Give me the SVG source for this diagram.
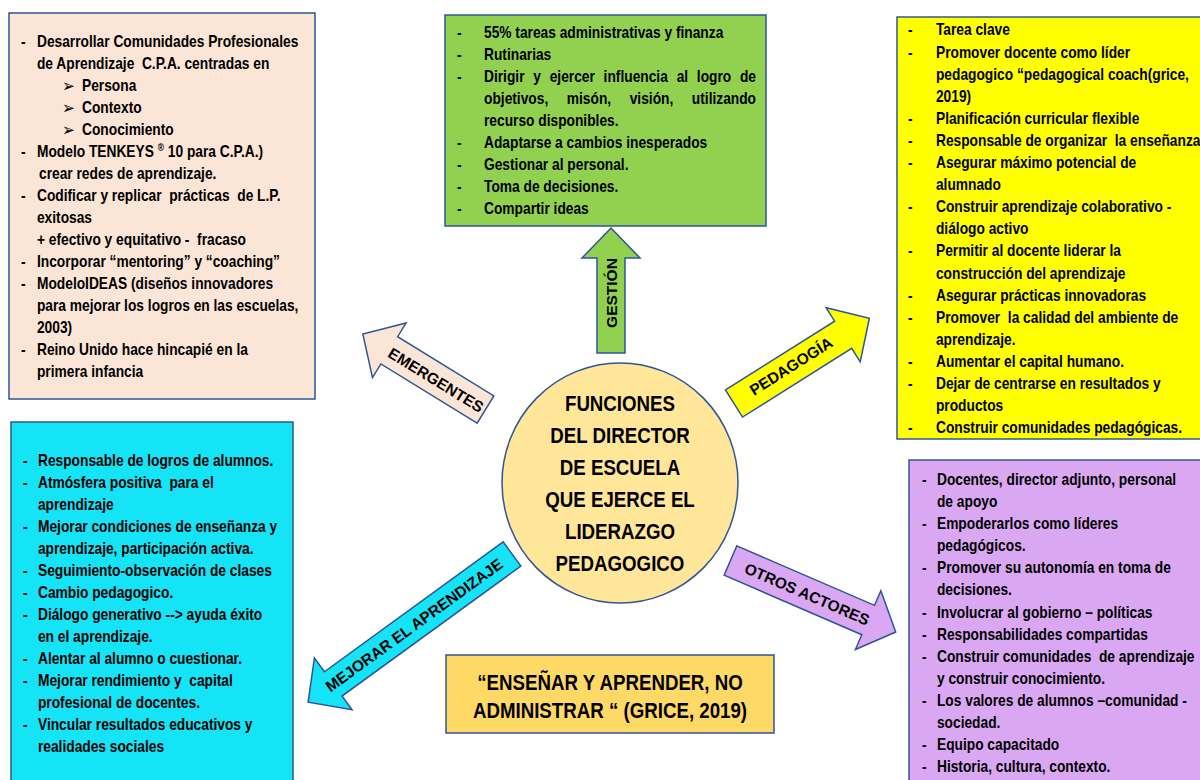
<svg xmlns="http://www.w3.org/2000/svg" width="1200" height="780" viewBox="0 0 1200 780">
<style>
.box{stroke:#2F5597;stroke-width:1.5}
.t{font-family:"Liberation Sans",Arial,sans-serif;font-weight:bold;font-size:16.2px;fill:#000;white-space:pre}
.e{text-anchor:end}
.big{font-family:"Liberation Sans",Arial,sans-serif;font-weight:bold;font-size:22px;fill:#000;text-anchor:middle;white-space:pre}
.lab{font-family:"Liberation Sans",Arial,sans-serif;font-weight:bold;font-size:15.5px;fill:#000;text-anchor:middle}
.bul{font-family:"DejaVu Sans","Liberation Sans",sans-serif;font-size:18px;fill:#000}
.arr{stroke:#2F5597;stroke-width:1.5}
</style>
<rect width="1200" height="780" fill="#FFFFFF"/>

<g id="emergentes-box">
<rect class="box" x="9" y="13" width="306" height="386" fill="#FBE5D6"/>
<g transform="translate(21,0) scale(0.85,1)">
<text class="t" x="0" y="47">-</text><text class="t" x="18.8" y="47">Desarrollar Comunidades Profesionales</text>
<text class="t" x="18.8" y="69">de Aprendizaje  C.P.A. centradas en</text>
<text class="bul" x="48.2" y="92">➢</text><text class="t" x="71.8" y="91">Persona</text>
<text class="bul" x="48.2" y="114">➢</text><text class="t" x="71.8" y="113">Contexto</text>
<text class="bul" x="48.2" y="136">➢</text><text class="t" x="71.8" y="135">Conocimiento</text>
<text class="t" x="0" y="157">-</text><text class="t" x="18.8" y="157">Modelo TENKEYS <tspan font-size="10" dy="-6">®</tspan><tspan dy="6"> 10 para C.P.A.)</tspan></text>
<text class="t" x="21.2" y="179">crear redes de aprendizaje.</text>
<text class="t" x="0" y="201">-</text><text class="t" x="18.8" y="201">Codificar y replicar  prácticas  de L.P.</text>
<text class="t" x="18.8" y="223">exitosas</text>
<text class="t" x="18.8" y="245">+ efectivo y equitativo -  fracaso</text>
<text class="t" x="0" y="267">-</text><text class="t" x="18.8" y="267">Incorporar “mentoring” y “coaching”</text>
<text class="t" x="0" y="289">-</text><text class="t" x="18.8" y="289">ModeloIDEAS (diseños innovadores</text>
<text class="t" x="18.8" y="311">para mejorar los logros en las escuelas,</text>
<text class="t" x="18.8" y="333">2003)</text>
<text class="t" x="0" y="355">-</text><text class="t" x="18.8" y="355">Reino Unido hace hincapié en la</text>
<text class="t" x="18.8" y="377">primera infancia</text>
</g>
</g>

<g id="gestion-box">
<rect class="box" x="445" y="15" width="321" height="211" fill="#92D050"/>
<g transform="translate(457,0) scale(0.85,1)">
<text class="t" x="0" y="38">-</text><text class="t" x="31.8" y="38">55% tareas administrativas y finanza</text>
<text class="t" x="0" y="60">-</text><text class="t" x="31.8" y="60">Rutinarias</text>
<text class="t" x="0" y="82">-</text>
<text class="t" y="82"><tspan x="31.8">Dirigir</tspan><tspan x="89.8">y</tspan><tspan x="109.1">ejercer</tspan><tspan x="172.5">influencia</tspan><tspan x="258.4">al</tspan><tspan x="282.2">logro</tspan></text>
<text class="t e" x="351.8" y="82">de</text>
<text class="t" y="104"><tspan x="31.8">objetivos,</tspan><tspan x="129.2">misón,</tspan><tspan x="203.2">visión,</tspan></text>
<text class="t e" x="351.8" y="104">utilizando</text>
<text class="t" x="31.8" y="126">recurso disponibles.</text>
<text class="t" x="0" y="148">-</text><text class="t" x="31.8" y="148">Adaptarse a cambios inesperados</text>
<text class="t" x="0" y="170">-</text><text class="t" x="31.8" y="170">Gestionar al personal.</text>
<text class="t" x="0" y="192">-</text><text class="t" x="31.8" y="192">Toma de decisiones.</text>
<text class="t" x="0" y="214">-</text><text class="t" x="31.8" y="214">Compartir ideas</text>
</g>
</g>

<g id="pedagogia-box">
<rect class="box" x="897" y="17" width="313" height="422" fill="#FFFF00"/>
<g transform="translate(908,0) scale(0.85,1)">
<text class="t" x="0" y="35.5">-</text><text class="t" x="32.9" y="35.5">Tarea clave</text>
<text class="t" x="0" y="57.6">-</text><text class="t" x="32.9" y="57.6">Promover docente como líder</text>
<text class="t" x="32.9" y="79.7">pedagogico “pedagogical coach(grice,</text>
<text class="t" x="32.9" y="101.8">2019)</text>
<text class="t" x="0" y="123.9">-</text><text class="t" x="32.9" y="123.9">Planificación curricular flexible</text>
<text class="t" x="0" y="146">-</text><text class="t" x="32.9" y="146">Responsable de organizar  la enseñanza</text>
<text class="t" x="0" y="168.1">-</text><text class="t" x="32.9" y="168.1">Asegurar máximo potencial de</text>
<text class="t" x="32.9" y="190.2">alumnado</text>
<text class="t" x="0" y="212.3">-</text><text class="t" x="32.9" y="212.3">Construir aprendizaje colaborativo -</text>
<text class="t" x="32.9" y="234.4">diálogo activo</text>
<text class="t" x="0" y="256.5">-</text><text class="t" x="32.9" y="256.5">Permitir al docente liderar la</text>
<text class="t" x="32.9" y="278.6">construcción del aprendizaje</text>
<text class="t" x="0" y="300.7">-</text><text class="t" x="32.9" y="300.7">Asegurar prácticas innovadoras</text>
<text class="t" x="0" y="322.8">-</text><text class="t" x="32.9" y="322.8">Promover  la calidad del ambiente de</text>
<text class="t" x="32.9" y="344.9">aprendizaje.</text>
<text class="t" x="0" y="367">-</text><text class="t" x="32.9" y="367">Aumentar el capital humano.</text>
<text class="t" x="0" y="389.1">-</text><text class="t" x="32.9" y="389.1">Dejar de centrarse en resultados y</text>
<text class="t" x="32.9" y="411.2">productos</text>
<text class="t" x="0" y="433.3">-</text><text class="t" x="32.9" y="433.3">Construir comunidades pedagógicas.</text>
</g>
</g>

<g id="mejorar-box">
<rect class="box" x="11" y="422" width="282" height="370" fill="#15E4F7"/>
<g transform="translate(23,0) scale(0.85,1)">
<text class="t" x="0" y="466">-</text><text class="t" x="17.6" y="466">Responsable de logros de alumnos.</text>
<text class="t" x="0" y="488">-</text><text class="t" x="17.6" y="488">Atmósfera positiva  para el</text>
<text class="t" x="17.6" y="510">aprendizaje</text>
<text class="t" x="0" y="532">-</text><text class="t" x="17.6" y="532">Mejorar condiciones de enseñanza y</text>
<text class="t" x="17.6" y="554">aprendizaje, participación activa.</text>
<text class="t" x="0" y="576">-</text><text class="t" x="17.6" y="576">Seguimiento-observación de clases</text>
<text class="t" x="0" y="598">-</text><text class="t" x="17.6" y="598">Cambio pedagogico.</text>
<text class="t" x="0" y="620">-</text><text class="t" x="17.6" y="620">Diálogo generativo --&gt; ayuda éxito</text>
<text class="t" x="17.6" y="642">en el aprendizaje.</text>
<text class="t" x="0" y="664">-</text><text class="t" x="17.6" y="664">Alentar al alumno o cuestionar.</text>
<text class="t" x="0" y="686">-</text><text class="t" x="17.6" y="686">Mejorar rendimiento y  capital</text>
<text class="t" x="17.6" y="708">profesional de docentes.</text>
<text class="t" x="0" y="730">-</text><text class="t" x="17.6" y="730">Vincular resultados educativos y</text>
<text class="t" x="17.6" y="752">realidades sociales</text>
</g>
</g>

<g id="otros-box">
<rect class="box" x="909" y="460" width="301" height="330" fill="#DAA8F2"/>
<g transform="translate(922,0) scale(0.85,1)">
<text class="t" x="0" y="485">-</text><text class="t" x="17.6" y="485">Docentes, director adjunto, personal</text>
<text class="t" x="17.6" y="507.1">de apoyo</text>
<text class="t" x="0" y="529.2">-</text><text class="t" x="17.6" y="529.2">Empoderarlos como líderes</text>
<text class="t" x="17.6" y="551.3">pedagógicos.</text>
<text class="t" x="0" y="573.4">-</text><text class="t" x="17.6" y="573.4">Promover su autonomía en toma de</text>
<text class="t" x="17.6" y="595.5">decisiones.</text>
<text class="t" x="0" y="617.6">-</text><text class="t" x="17.6" y="617.6">Involucrar al gobierno – políticas</text>
<text class="t" x="0" y="639.7">-</text><text class="t" x="17.6" y="639.7">Responsabilidades compartidas</text>
<text class="t" x="0" y="661.8">-</text><text class="t" x="17.6" y="661.8">Construir comunidades  de aprendizaje</text>
<text class="t" x="17.6" y="683.9">y construir conocimiento.</text>
<text class="t" x="0" y="706">-</text><text class="t" x="17.6" y="706">Los valores de alumnos –comunidad -</text>
<text class="t" x="17.6" y="728.1">sociedad.</text>
<text class="t" x="0" y="750.2">-</text><text class="t" x="17.6" y="750.2">Equipo capacitado</text>
<text class="t" x="0" y="772.3">-</text><text class="t" x="17.6" y="772.3">Historia, cultura, contexto.</text>
</g>
</g>

<g id="center">
<ellipse class="box" cx="620" cy="483" rx="118" ry="120" fill="#FFE699"/>
<g transform="translate(620,0) scale(0.85,1)">
<text class="big" x="0" y="411">FUNCIONES</text>
<text class="big" x="0" y="443">DEL DIRECTOR</text>
<text class="big" x="0" y="475">DE ESCUELA</text>
<text class="big" x="0" y="507">QUE EJERCE EL</text>
<text class="big" x="0" y="539">LIDERAZGO</text>
<text class="big" x="0" y="571">PEDAGOGICO</text>
</g>
</g>

<g id="quote">
<rect class="box" x="446" y="655" width="328" height="78" fill="#FFD966"/>
<g transform="translate(610,0) scale(0.85,1)">
<text class="big" x="0" y="690">“ENSEÑAR Y APRENDER, NO</text>
<text class="big" x="0" y="718">ADMINISTRAR “ (GRICE, 2019)</text>
</g>
</g>

<g id="connectors">
<g id="arrow-gestion" transform="translate(611,353) rotate(-90)">
<polygon class="arr" fill="#92D050" points="0,-14 95,-14 95,-29 125,0 95,29 95,14 0,14"/>
<text class="lab" x="60" y="0" dy="0.36em">GESTIÓN</text>
</g>
<g id="arrow-emergentes">
<polygon class="arr" fill="#FBE5D6" transform="translate(485.5,409.5) rotate(211.6)" points="0,-16 113,-16 113,-32 144,0 113,32 113,16 0,16"/>
<text class="lab" transform="translate(436,380) rotate(31.6)" x="0" y="0" dy="0.36em">EMERGENTES</text>
</g>
<g id="arrow-pedagogia">
<polygon class="arr" fill="#FFFF00" transform="translate(734,403.5) rotate(-32.2)" points="0,-16 129,-16 129,-32 160,0 129,32 129,16 0,16"/>
<text class="lab" transform="translate(791,366) rotate(-32.2)" x="0" y="0" dy="0.36em">PEDAGOGÍA</text>
</g>
<g id="arrow-mejorar">
<polygon class="arr" fill="#15E4F7" transform="translate(512,554) rotate(144)" points="0,-15 221,-15 221,-32 252,0 221,32 221,15 0,15"/>
<text class="lab" transform="translate(414,625) rotate(-36)" x="0" y="0" dy="0.36em">MEJORAR EL APRENDIZAJE</text>
</g>
<g id="arrow-otros">
<polygon class="arr" fill="#DAA8F2" transform="translate(730.5,560.5) rotate(23.4)" points="0,-16 150,-16 150,-32 180,0 150,32 150,16 0,16"/>
<text class="lab" transform="translate(807,594) rotate(23.4)" x="0" y="0" dy="0.36em">OTROS ACTORES</text>
</g>
</g>
</svg>
